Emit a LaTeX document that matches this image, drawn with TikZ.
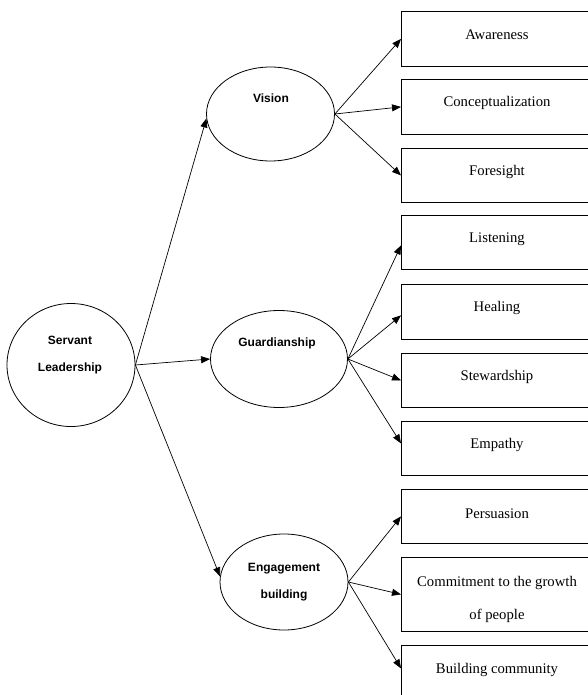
\documentclass[tikz,border=0pt]{standalone}
\usepackage{fontspec}
\setmainfont{Liberation Serif}
\newfontfamily\lsans{Liberation Sans}
\usetikzlibrary{arrows.meta,shapes.geometric}
\begin{document}
\begin{tikzpicture}[x=1pt,y=-1pt,
  oval/.style={draw, ellipse, line width=0.8pt, inner sep=0pt},
  itembox/.style={draw, rectangle, line width=0.8pt, minimum width=210pt, inner sep=0pt, anchor=north west},
  olabel/.style={font=\lsans\bfseries\fontsize{12}{27.5}\selectfont, align=center, inner sep=0pt},
  blabel/.style={font=\fontsize{14.7}{33}\selectfont, align=center, inner sep=0pt},
  link/.style={-{Triangle[length=9pt,width=7pt]}, line width=0.7pt}]
\useasboundingbox (0,0) rectangle (587,695);

% ovals
\node[oval, minimum width=128pt, minimum height=123pt] (srv) at (71,365) {};
\node[oval, minimum width=128pt, minimum height=94pt] (vis) at (270.5,114) {};
\node[oval, minimum width=137pt, minimum height=97pt] (grd) at (279,359) {};
\node[oval, minimum width=128pt, minimum height=96pt] (eng) at (284,582) {};

\node[olabel] (srvT) at (70,355) {Servant\\Leadership};
\node[olabel] (visT) at (271,98) {Vision};
\node[olabel] (grdT) at (277,343) {Guardianship};
\node[olabel] (engT) at (284,582) {Engagement\\building};

% boxes
\node[itembox, minimum height=55pt] (b1) at (401,11) {};
\node[itembox, minimum height=55pt] (b2) at (401,79) {};
\node[itembox, minimum height=54pt] (b3) at (401,148) {};
\node[itembox, minimum height=54pt] (b4) at (401,215) {};
\node[itembox, minimum height=55pt] (b5) at (401,284) {};
\node[itembox, minimum height=54pt] (b6) at (401,353) {};
\node[itembox, minimum height=54pt] (b7) at (401,421) {};
\node[itembox, minimum height=54pt] (b8) at (401,489) {};
\node[itembox, minimum height=74pt] (b9) at (401,557) {};
\node[itembox, minimum height=55pt] (b10) at (401,645) {};

\node[blabel] (t1) at (497,35) {Awareness};
\node[blabel] (t2) at (497,103) {Conceptualization};
\node[blabel] (t3) at (497,172) {Foresight};
\node[blabel] (t4) at (497,239) {Listening};
\node[blabel] (t5) at (497,308) {Healing};
\node[blabel] (t6) at (497,377) {Stewardship};
\node[blabel] (t7) at (497,445) {Empathy};
\node[blabel] (t8) at (497,514) {Persuasion};
\node[blabel] (t9) at (497,599.5) {Commitment to the growth\\of people};
\node[blabel] (t10) at (497,670) {Building community};

% connectors
\draw[link] (srv.east) -- (vis.184);
\draw[link] (srv.east) -- (grd.west);
\draw[link] (srv.east) -- (eng.175);

\draw[link] (vis.east) -- (b1.west);
\draw[link] (vis.east) -- (b2.west);
\draw[link] (vis.east) -- (b3.west);

\draw[link] (grd.east) -- ([yshift=-3pt]b4.west);
\draw[link] (grd.east) -- ([yshift=-3.5pt]b5.west);
\draw[link] (grd.east) -- (b6.west);
\draw[link] (grd.east) -- ([yshift=5pt]b7.west);

\draw[link] (eng.east) -- (b8.west);
\draw[link] (eng.east) -- (b9.west);
\draw[link] (eng.east) -- ([yshift=4.5pt]b10.west);
\end{tikzpicture}
\end{document}
